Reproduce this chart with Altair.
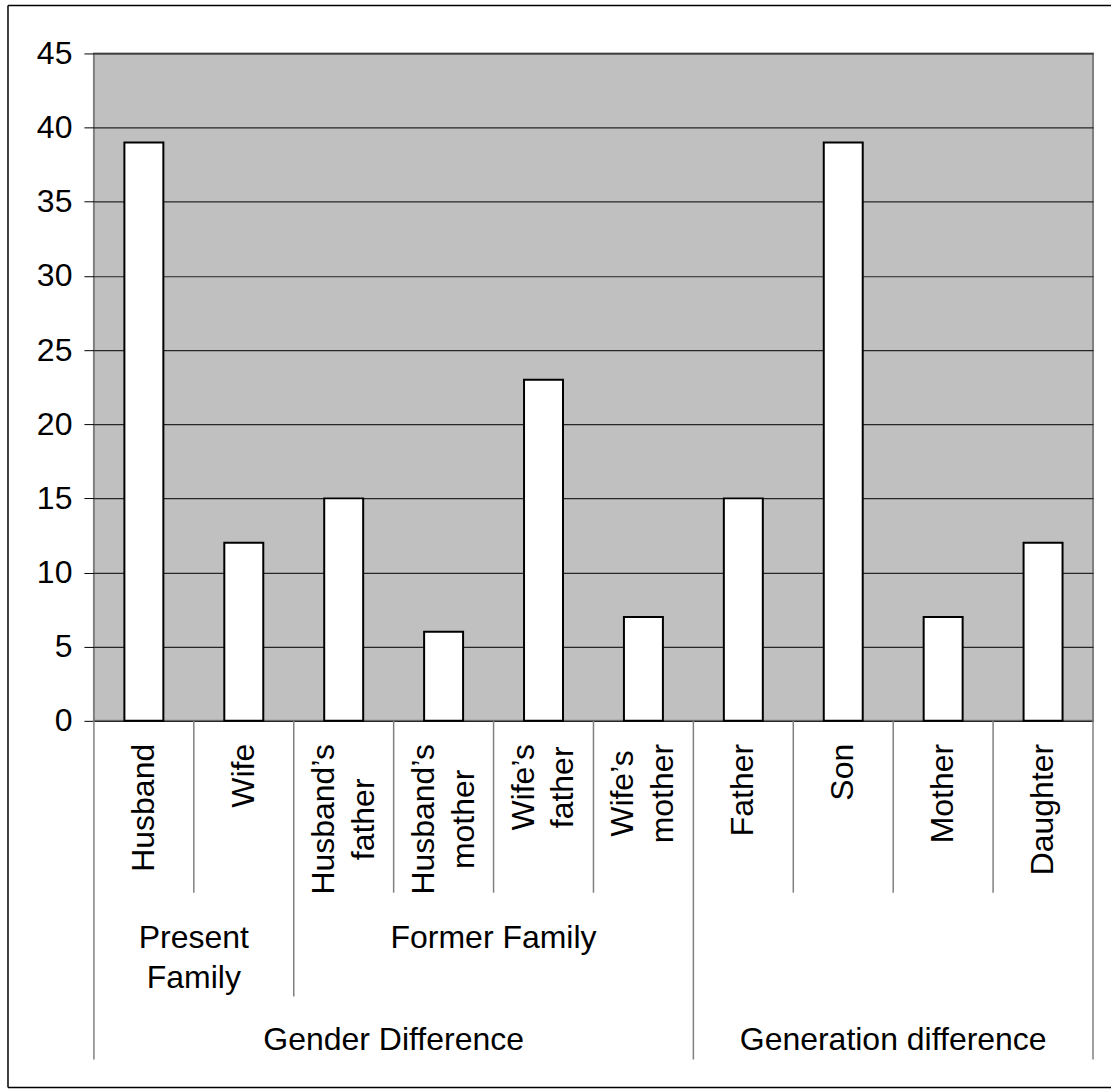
import altair as alt
import pandas as pd

# Relatives named in the survey and how often each was mentioned
categories = ["Husband", "Wife", "Husband's father", "Husband's mother",
              "Wife's father", "Wife's mother", "Father", "Son", "Mother", "Daughter"]
tick_labels = ["Husband", "Wife", "Husband’s\nfather", "Husband’s\nmother",
               "Wife’s\nfather", "Wife’s\nmother", "Father", "Son", "Mother", "Daughter"]
counts = [39, 12, 15, 6, 23, 7, 15, 39, 7, 12]

# Grouping rows under the category axis: (label, first index, end index)
family_groups = ["Present\nFamily", "Former Family"]
family_spans = [(0, 2), (2, 6)]
difference_groups = ["Gender Difference", "Generation difference"]
difference_spans = [(0, 6), (6, 10)]

# Layout
W, H = 1000, 668
FONT = "Liberation Sans"
FS = 32
LINE = 40
LABEL_GAP = 23          # plot bottom to the top of the rotated labels
TICK_DEPTH = 172        # separators between single categories
FAMILY_DEPTH = 276      # separators between family groups
GROUP_DEPTH = 339       # separators between difference groups
FAMILY_BASE = 227       # baseline of the family-group row
GROUP_BASE = 329        # baseline of the difference-group row
GRAY = "#808080"

# Arial/Helvetica advance widths (per 1000 em) for measuring label length
ADV = {"H": 722, "u": 556, "s": 500, "b": 556, "a": 556, "n": 556, "d": 556,
       "’": 222, "f": 278, "t": 278, "h": 556, "e": 556, "r": 333, "m": 833,
       "o": 556, "W": 944, "i": 222, "F": 611, "S": 667, "M": 833, "D": 722,
       "g": 556, " ": 278}


def text_len(label):
    return max(sum(ADV.get(c, 556) for c in line) for line in label.split("\n")) * FS / 1000


xscale = alt.Scale(domain=categories, paddingInner=0, paddingOuter=0)

bar_df = pd.DataFrame({"cat": categories, "count": counts})
bars = alt.Chart(bar_df).mark_bar(
    fill="white", stroke="black", strokeWidth=2, size=39
).encode(
    x=alt.X("cat:N", scale=xscale, sort=categories,
            axis=alt.Axis(title=None, labels=False, ticks=False,
                          domainColor="black", domainWidth=1)),
    y=alt.Y("count:Q", scale=alt.Scale(domain=[0, 45], nice=False),
            axis=alt.Axis(title=None, values=list(range(0, 50, 5)), grid=True,
                          gridColor="#262626", gridWidth=1.2, domain=False,
                          tickColor="black", tickSize=10, tickWidth=1,
                          labelFont=FONT, labelFontSize=FS, labelColor="black",
                          labelPadding=12)),
)


def category_labels(n_lines):
    """Rotated category names with n_lines lines, block centred on its band."""
    rows = [(c, t) for c, t in zip(categories, tick_labels) if t.count("\n") + 1 == n_lines]
    df = pd.DataFrame({
        "cat": [c for c, _ in rows],
        "text": [t for _, t in rows],
        "ly": [H + LABEL_GAP + text_len(t) / 2 for _, t in rows],
    })
    return alt.Chart(df).mark_text(
        angle=270, align="center", baseline="middle", lineBreak="\n",
        lineHeight=LINE, font=FONT, fontSize=FS, color="black",
        dy=-(n_lines - 1) * LINE / 2
    ).encode(
        x=alt.X("cat:N", sort=categories, axis=None),
        y=alt.Y("ly:Q", scale=None, axis=None),
        text="text:N",
    )


def edges(spans):
    out = set()
    for s, e in spans:
        out.update([s, e])
    return out


group_edges = edges(difference_spans)
family_edges = edges(family_spans) - group_edges
tick_edges = set(range(len(categories) + 1)) - family_edges - group_edges


def edge_layers(idx, depth):
    layers = []
    left = [categories[i] for i in sorted(idx) if i < len(categories)]
    right = [categories[-1] for i in idx if i == len(categories)]
    for cats, bp in ((left, 0), (right, 1)):
        if cats:
            layers.append(
                alt.Chart(pd.DataFrame({"cat": cats})).mark_rule(
                    color=GRAY, strokeWidth=1.5
                ).encode(
                    x=alt.X("cat:N", sort=categories, bandPosition=bp, axis=None),
                    y=alt.value(H),
                    y2=alt.value(H + depth),
                )
            )
    return layers


def group_text(labels, spans, base):
    df = pd.DataFrame({
        "cat": [categories[(s + e) // 2] for s, e in spans],
        "text": labels,
    })
    return alt.Chart(df).mark_text(
        align="center", baseline="alphabetic", lineBreak="\n", lineHeight=LINE,
        font=FONT, fontSize=FS, color="black"
    ).encode(
        x=alt.X("cat:N", sort=categories, bandPosition=0, axis=None),
        y=alt.value(H + base),
        text="text:N",
    )


# Outer frame: top, left and bottom edges (the right edge runs off the page)
one = pd.DataFrame({"f": [0]})
FL, FR, FT, FB = -86, 1018, -48, 1035
frame_style = dict(color="black", strokeWidth=1.5)
frame = [
    alt.Chart(one).mark_rule(**frame_style).encode(
        x=alt.value(FL), x2=alt.value(FR), y=alt.value(FT)),
    alt.Chart(one).mark_rule(**frame_style).encode(
        x=alt.value(FL), x2=alt.value(FR), y=alt.value(FB)),
    alt.Chart(one).mark_rule(**frame_style).encode(
        x=alt.value(FL), y=alt.value(FT), y2=alt.value(FB)),
]

chart = alt.layer(
    bars,
    *edge_layers(tick_edges, TICK_DEPTH),
    *edge_layers(family_edges, FAMILY_DEPTH),
    *edge_layers(group_edges, GROUP_DEPTH),
    category_labels(1),
    category_labels(2),
    group_text(family_groups, family_spans, FAMILY_BASE),
    group_text(difference_groups, difference_spans, GROUP_BASE),
    *frame,
).properties(
    width=W, height=H, padding={"left": 7, "top": 4, "right": 0, "bottom": 0},
    background="white",
).configure_view(
    fill="#C0C0C0", stroke=GRAY, strokeWidth=2
)

chart.save("out.html", embed_options={"renderer": "svg", "actions": False})
